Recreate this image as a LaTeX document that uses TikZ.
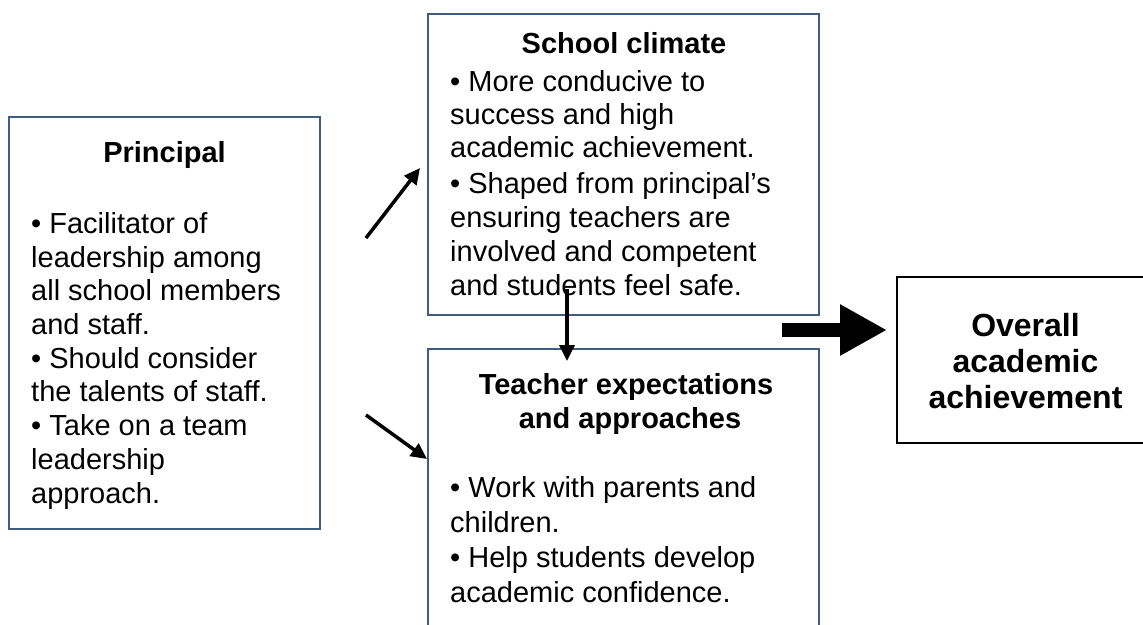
\documentclass[tikz,border=0pt]{standalone}
\usepackage{fontspec}
\setmainfont{Liberation Sans}
\usetikzlibrary{arrows.meta}
\definecolor{boxblue}{RGB}{66,92,128}
\tikzset{
  box/.style={draw=boxblue, line width=2.2pt, rectangle, inner sep=0pt},
  blackbox/.style={draw=black, line width=2.2pt, rectangle, inner sep=0pt},
  txt/.style={anchor=base west, inner sep=0pt, align=left, font=\fontsize{29}{33.7}\selectfont},
  head/.style={anchor=base, inner sep=0pt, align=center, font=\fontsize{29}{33.4}\selectfont\bfseries},
  bighead/.style={anchor=base, inner sep=0pt, align=center, font=\fontsize{32}{36}\selectfont\bfseries},
  conn/.style={line width=3.5pt, -{Triangle[length=16pt,width=15pt]}},
  bigarrow/.style={line width=14pt, -{Triangle[length=47pt,width=48pt]}}
}
\begin{document}
\begin{tikzpicture}[x=1pt,y=-1pt]
\useasboundingbox (0,0) rectangle (1143,624);
% boxes
\node[box, minimum width=311pt, minimum height=412pt] (pr) at (164.5,323) {};
\node[box, minimum width=391pt, minimum height=301pt] (sc) at (623.5,164.5) {};
\node[box, minimum width=391pt, minimum height=291pt] (te) at (623.5,494.5) {};
\node[blackbox, minimum width=263pt, minimum height=166pt] (ov) at (1028.5,360) {};
% Principal text (anchors are at the baseline of the last line)
\node[head] (prh) at (164.5,162) {Principal};
\node[txt] (prt) at (31,503) {• Facilitator of\\leadership among\\all school members\\and staff.\\• Should consider\\the talents of staff.\\• Take on a team\\leadership\\approach.};
% School climate text
\node[head] (sch) at (624,53) {School climate};
\node[txt, font=\fontsize{29}{33}\selectfont] (sct1) at (450,157) {• More conducive to\\success and high\\academic achievement.};
\node[txt, font=\fontsize{29}{33.7}\selectfont] (sct2) at (450,295) {• Shaped from principal’s\\ensuring teachers are\\involved and competent\\and students feel safe.};
% Teacher text
\node[head] (teh) at (626,428) {Teacher expectations\\\ and approaches};
\node[txt, font=\fontsize{29}{34.7}\selectfont] (tet) at (450,602) {• Work with parents and\\children.\\• Help students develop\\academic confidence.};
% Overall text
\node[bighead] (ovh) at (1025.5,408) {Overall\\academic\\achievement};
% arrows
\coordinate (a1s) at (366,238);
\coordinate (a1e) at (420,168);
\coordinate (a2s) at (366,415);
\coordinate (a2e) at (427,459);
\coordinate (a3s) at (567,289);
\coordinate (a3e) at (567,361);
\coordinate (a4s) at (782,330);
\coordinate (a4e) at (887,330);
\draw[conn] (a1s) -- (a1e);
\draw[conn] (a2s) -- (a2e);
\draw[conn] (a3s) -- (a3e);
\draw[bigarrow] (a4s) -- (a4e);
\end{tikzpicture}
\end{document}
